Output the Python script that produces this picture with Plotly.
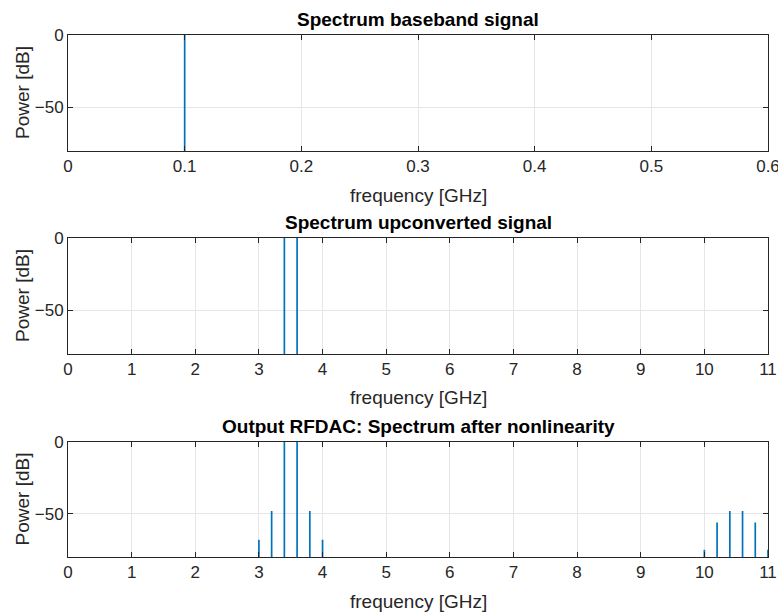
import plotly.graph_objects as go

# ---- data ----
bb_freq = [0.1]
bb_power = [0.0]

up_freq = [3.4, 3.6]
up_power = [0.0, 0.0]

out_freq = [3.0, 3.2, 3.4, 3.6, 3.8, 4.0, 10.0, 10.2, 10.4, 10.6, 10.8, 11.0]
out_power = [-68, -48, 0, 0, -48, -68, -75, -56, -48, -48, -56, -75]

titles = ["Spectrum baseband signal", "Spectrum upconverted signal",
          "Output RFDAC: Spectrum after nonlinearity"]
xlabel = "frequency [GHz]"
ylabel = "Power [dB]"
ymin, ymax = -80, 0

W, H = 778, 615
BLUE = "#0072BD"
FONT = "Liberation Sans, Arial, Helvetica, sans-serif"
TXT = "#262626"


def stems(fs, ps):
    xs, ys = [], []
    for f, p in zip(fs, ps):
        xs += [f, f, None]
        ys += [ymin, p, None]
    return xs, ys


# panel pixel boxes (left, right, top, bottom)
x0, x1 = 68, 768
panels = [(35, 151), (238, 354), (442, 557)]

fig = go.Figure()
datasets = [(bb_freq, bb_power), (up_freq, up_power), (out_freq, out_power)]
xranges = [[0, 0.600001], [0, 11], [0, 11]]
xticks = [[0, 0.1, 0.2, 0.3, 0.4, 0.5, 0.6], list(range(0, 12)), list(range(0, 12))]

annotations = []
for i, ((fs, ps), (top, bot)) in enumerate(zip(datasets, panels)):
    n = "" if i == 0 else str(i + 1)
    xs, ys = stems(fs, ps)
    fig.add_trace(go.Scatter(x=xs, y=ys, mode="lines",
                             line=dict(color=BLUE, width=1.7),
                             xaxis="x" + n, yaxis="y" + n, showlegend=False,
                             hoverinfo="skip", cliponaxis=False))
    ydom = [1 - bot / H, 1 - top / H]
    common = dict(showline=True, linecolor="#262626", linewidth=1, mirror="allticks",
                  ticks="inside", ticklen=5, tickcolor="#262626", automargin=False,
                  showgrid=True, gridcolor="#e6e6e6", gridwidth=1, zeroline=False,
                  ticklabeloverflow="allow",
                  tickfont=dict(family=FONT, size=17, color=TXT))
    fig.layout["xaxis" + n] = dict(domain=[x0 / W, x1 / W], range=xranges[i],
                                   tickvals=xticks[i],
                                   ticktext=[("%g" % v) for v in xticks[i]],
                                   anchor="y" + n, **common)
    fig.layout["yaxis" + n] = dict(domain=ydom, range=[ymin, ymax],
                                   tickvals=[-50, 0], anchor="x" + n, **common)
    cx = (x0 + x1) / 2 / W
    annotations.append(dict(text="<b>%s</b>" % titles[i], x=cx, y=1 - (top - 3) / H,
                            xref="paper", yref="paper", xanchor="center", yanchor="bottom",
                            showarrow=False, font=dict(family=FONT, size=19, color="black")))
    annotations.append(dict(text=xlabel, x=cx, y=1 - (bot + 44) / H,
                            xref="paper", yref="paper", xanchor="center", yanchor="middle",
                            showarrow=False, font=dict(family=FONT, size=19, color=TXT)))
    annotations.append(dict(text=ylabel, x=22 / W, y=1 - (top + bot) / 2 / H,
                            xref="paper", yref="paper", xanchor="center", yanchor="middle",
                            textangle=-90, showarrow=False,
                            font=dict(family=FONT, size=19, color=TXT)))

fig.update_layout(width=W, height=H, margin=dict(l=0, r=0, t=0, b=0, autoexpand=False),
                  paper_bgcolor="white", plot_bgcolor="white",
                  annotations=annotations)

fig.write_html("out.html")
